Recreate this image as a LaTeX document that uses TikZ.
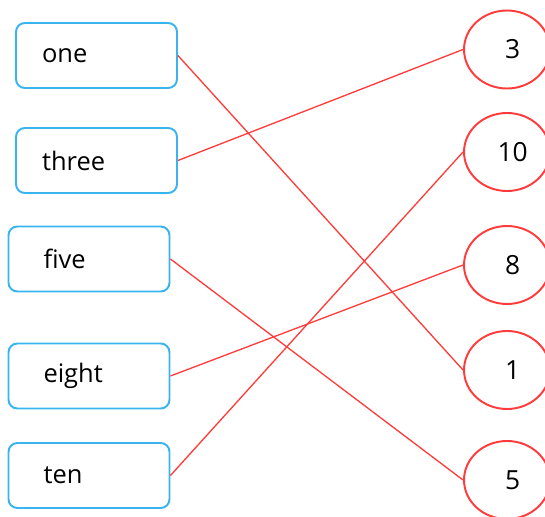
\documentclass[tikz,border=0pt]{standalone}
\usepackage{fontspec}
\setmainfont{Open Sans}
\usetikzlibrary{shapes.geometric}
\definecolor{boxblue}{HTML}{3AB4EE}
\definecolor{linkred}{HTML}{FF3B3B}
\tikzset{
  wordbox/.style={
    rectangle, rounded corners=5pt, minimum width=3.22cm, minimum height=1.3cm,
    text width=2.18cm, inner xsep=0.52cm, align=left, draw=boxblue, line width=1.1pt,
    font=\fontsize{14.5}{16}\selectfont
  },
  lowbox/.style={
    wordbox, text width=1.82cm, inner xsep=0.7cm
  },
  numcircle/.style={
    ellipse, minimum width=1.72cm, minimum height=1.56cm, inner sep=0pt,
    draw=linkred, line width=1.1pt, font=\fontsize{15}{17}\selectfont
  },
  link/.style={
    line width=0.75pt, color=linkred
  }
}
\begin{document}
\begin{tikzpicture}[x=0.02cm, y=-0.02cm]
\useasboundingbox (0,0) rectangle (545,517);
\clip (0,0) rectangle (545,517);
% left column
\node[wordbox] (one) at (96.5,55.5) {one};
\node[wordbox] (three) at (96.5,160.5) {three};
\node[lowbox] (five) at (89,259) {five};
\node[lowbox] (eight) at (89,376) {eight};
\node[lowbox] (ten) at (89,475.5) {ten};
% right column
\node[numcircle] (n3) at (507,49.5) {\ \,3};
\node[numcircle] (n10) at (507,152) {\ \,10};
\node[numcircle] (n8) at (507,265) {\ \,8};
\node[numcircle] (n1) at (507,370) {\ \,1};
\node[numcircle] (n5) at (507,480) {\ \,5};
% matches
\draw[link] (one.east) -- (n1.west);
\draw[link] (three.east) -- (n3.west);
\draw[link] (five.east) -- (n5.west);
\draw[link] (eight.east) -- (n8.west);
\draw[link] (ten.east) -- (n10.west);
\end{tikzpicture}
\end{document}
